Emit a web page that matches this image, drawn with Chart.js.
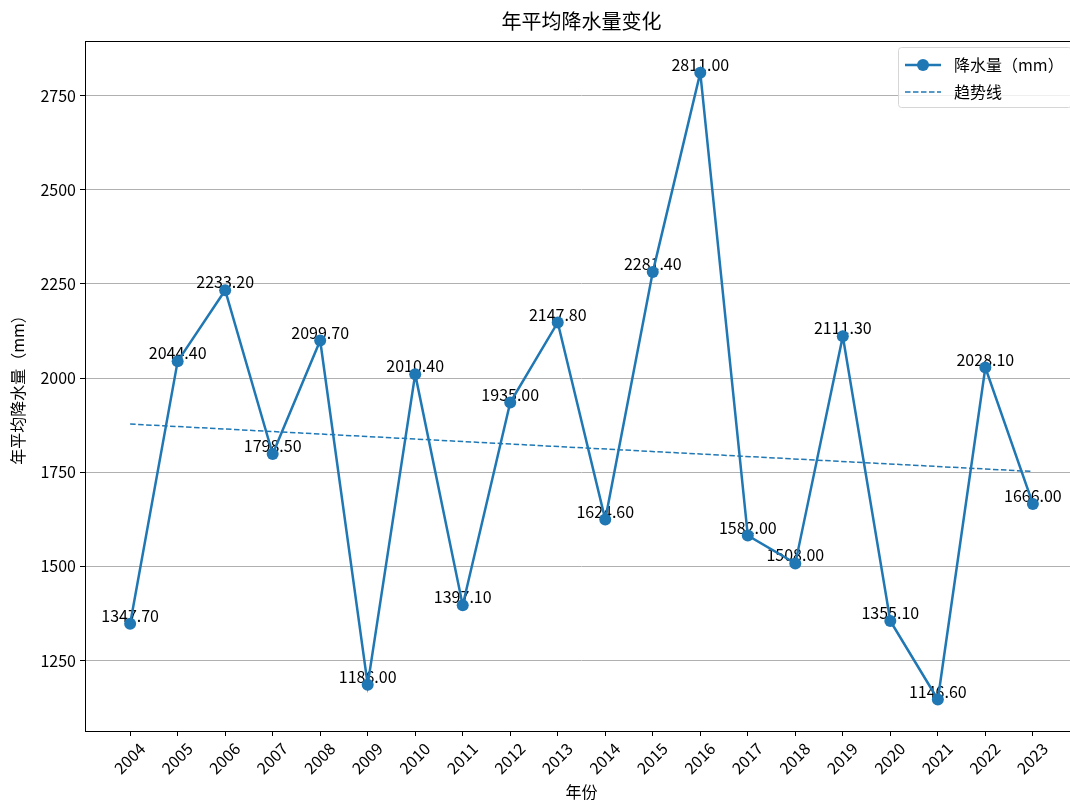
<!DOCTYPE html>
<html>
<head>
<meta charset="utf-8">
<script src="https://cdn.jsdelivr.net/npm/chart.js@4.4.0/dist/chart.umd.min.js"></script>
<style>
  html, body { margin: 0; padding: 0; background: #fff; overflow: hidden; }
  #wrap { width: 1070px; height: 803px; overflow: hidden; }
</style>
</head>
<body>
<div id="wrap"><canvas id="myChart" width="1090" height="803"></canvas></div>
<script>
const years = [2004, 2005, 2006, 2007, 2008, 2009, 2010, 2011, 2012, 2013,
  2014, 2015, 2016, 2017, 2018, 2019, 2020, 2021, 2022, 2023]
const rain = [1347.7, 2044.4, 2233.2, 1798.5, 2099.7, 1186.0, 2010.4, 1397.1, 1935.0, 2147.8,
  1624.6, 2281.4, 2811.0, 1582.0, 1508.0, 2111.3, 1355.1, 1146.6, 2028.1, 1666.0]
// trend line ends
const trendYears = [2004, 2023]
const trendVals = [1878, 1752]
const yTicks = [1250, 1500, 1750, 2000, 2250, 2500, 2750]

const FONT = '"Noto Sans CJK SC", "DejaVu Sans", sans-serif'
const BLUE = '#1f77b4'

const extras = {
  id: 'extras',
  beforeDatasetsDraw(chart) {
    // value labels above points (markers drawn over them)
    const { ctx } = chart
    const meta = chart.getDatasetMeta(0)
    ctx.save()
    ctx.font = '16px ' + FONT
    ctx.fillStyle = '#000'
    ctx.textAlign = 'center'
    ctx.textBaseline = 'middle'
    meta.data.forEach((pt, i) => {
      ctx.fillText(rain[i].toFixed(2), pt.x, pt.y - 8)
    })
    ctx.restore()
  },
  afterDraw(chart) {
    const { ctx, chartArea: a } = chart
    ctx.save()
    // frame
    ctx.strokeStyle = '#000'
    ctx.lineWidth = 1
    ctx.strokeRect(Math.round(a.left) + 0.5, Math.round(a.top) + 0.5,
      Math.round(a.right - a.left), Math.round(a.bottom - a.top))
    // title
    ctx.fillStyle = '#000'
    ctx.font = '20px ' + FONT
    ctx.textAlign = 'center'
    ctx.textBaseline = 'middle'
    ctx.fillText('年平均降水量变化', (a.left + a.right) / 2, 21)
    // legend
    const lx = 898, ly = 47, lw = 173, lh = 60
    ctx.fillStyle = 'rgba(255,255,255,0.8)'
    ctx.strokeStyle = '#d6d6d6'
    ctx.lineWidth = 1
    ctx.beginPath()
    ctx.roundRect(lx + 0.5, ly + 0.5, lw, lh, 3)
    ctx.fill()
    ctx.stroke()
    ctx.strokeStyle = BLUE
    ctx.lineWidth = 2.5
    ctx.beginPath()
    ctx.moveTo(905, 65); ctx.lineTo(941, 65)
    ctx.stroke()
    ctx.fillStyle = BLUE
    ctx.beginPath()
    ctx.arc(923, 65, 6, 0, Math.PI * 2)
    ctx.fill()
    ctx.lineWidth = 1.5
    ctx.setLineDash([5.5, 2.5])
    ctx.beginPath()
    ctx.moveTo(905, 92); ctx.lineTo(941, 92)
    ctx.stroke()
    ctx.setLineDash([])
    ctx.fillStyle = '#000'
    ctx.font = '16px ' + FONT
    ctx.textAlign = 'left'
    ctx.fillText('降水量（mm）', 954, 65)
    ctx.fillText('趋势线', 954, 92)
    ctx.restore()
  }
}

const data = {
  datasets: [
    {
      label: '降水量（mm）',
      data: years.map((y, i) => ({ x: y, y: rain[i] })),
      borderColor: BLUE,
      backgroundColor: BLUE,
      borderWidth: 2.5,
      pointRadius: 6,
      pointHoverRadius: 6,
      pointBorderWidth: 0,
      tension: 0
    },
    {
      label: '趋势线',
      data: trendYears.map((y, i) => ({ x: y, y: trendVals[i] })),
      borderColor: BLUE,
      borderWidth: 1.5,
      borderDash: [5.5, 2.5],
      pointRadius: 0,
      tension: 0
    }
  ]
}

const config = {
  type: 'line',
  data: data,
  plugins: [extras],
  options: {
    responsive: false,
    animation: false,
    devicePixelRatio: 1,
    layout: { padding: { top: 41, right: 12, left: 0, bottom: 0 } },
    plugins: { legend: { display: false }, title: { display: false }, tooltip: { enabled: false } },
    scales: {
      x: {
        type: 'linear',
        min: 2003.05,
        max: 2023.95,
        afterBuildTicks: s => { s.ticks = years.map(v => ({ value: v })) },
        afterFit: s => { s.height = 72 },
        grid: { drawOnChartArea: false, color: '#000', tickLength: 5 },
        border: { display: false },
        ticks: {
          color: '#000',
          font: { family: FONT, size: 16 },
          minRotation: 45,
          maxRotation: 45,
          labelOffset: 12,
          padding: 3,
          callback: v => String(v)
        },
        title: { display: true, text: '年份', color: '#000', font: { family: FONT, size: 16 }, padding: { top: 1, bottom: 1 } }
      },
      y: {
        min: 1063,
        max: 2895,
        afterBuildTicks: s => { s.ticks = yTicks.map(v => ({ value: v })) },
        afterFit: s => { s.width = 85 },
        grid: { color: '#b0b0b0', tickColor: '#000', tickLength: 5 },
        border: { display: false },
        ticks: { color: '#000', font: { family: FONT, size: 16 }, padding: 4, callback: v => String(v) },
        title: { display: true, text: '年平均降水量（mm）', color: '#000', font: { family: FONT, size: 16 }, padding: { top: 8, bottom: 8 } }
      }
    }
  }
}

const myChart = new Chart(document.getElementById('myChart'), config)
</script>
</body>
</html>
